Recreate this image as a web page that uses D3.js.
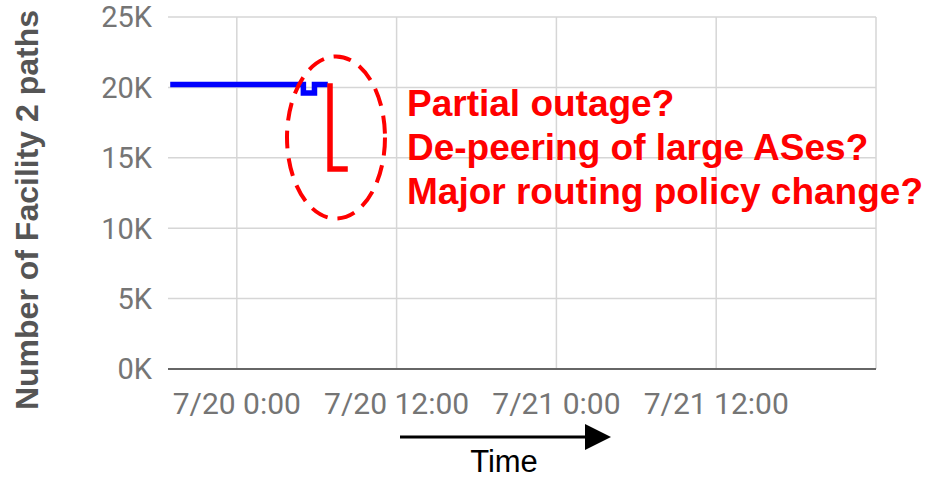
<!DOCTYPE html>
<html>
<head>
<meta charset="utf-8">
<script src="https://cdn.jsdelivr.net/npm/d3@7"></script>
<style>
  body { margin: 0; background: #fff; }
  svg { display: block; }
</style>
</head>
<body>
<script>
var width = 926,
    height = 480;

// data
var yTicks = [0, 5000, 10000, 15000, 20000, 25000];
var xTicks = ["2019-07-20T00:00", "2019-07-20T12:00", "2019-07-21T00:00", "2019-07-21T12:00"];
var xTickLabels = ["7/20 0:00", "7/20 12:00", "7/21 0:00", "7/21 12:00"];
var xDomain = ["2019-07-19T18:50", "2019-07-22T00:00"];

var blueTimes = ["2019-07-19T19:00", "2019-07-20T05:00", "2019-07-20T05:50", "2019-07-20T06:50"];
var blueValues = [20200, 19600, 20200, 20200];

var redTimes = ["2019-07-20T07:00", "2019-07-20T07:00", "2019-07-20T08:20"];
var redValues = [20300, 14200, 14200];

var notes = ["Partial outage?", "De-peering of large ASes?", "Major routing policy change?"];

var parse = d3.timeParse("%Y-%m-%dT%H:%M");

var plotLeft = 168, plotRight = 876, plotTop = 17, plotBottom = 369;

var x = d3.scaleTime()
    .domain(xDomain.map(parse))
    .range([plotLeft, plotRight]);

var y = d3.scaleLinear()
    .domain([0, 25000])
    .range([plotBottom, plotTop]);

var svg = d3.select("body").append("svg")
    .attr("width", width)
    .attr("height", height);

// horizontal grid
svg.append("g").selectAll("line")
    .data(yTicks.filter(function(d) { return d > 0; }))
    .enter().append("line")
    .attr("x1", plotLeft).attr("x2", plotRight)
    .attr("y1", function(d) { return y(d); })
    .attr("y2", function(d) { return y(d); })
    .style("stroke", "#d6d6d6")
    .style("stroke-width", 1.5);

// vertical grid (ticks plus right edge)
var vLines = xTicks.map(parse).concat([x.domain()[1]]);
svg.append("g").selectAll("line")
    .data(vLines)
    .enter().append("line")
    .attr("x1", function(d) { return x(d); })
    .attr("x2", function(d) { return x(d); })
    .attr("y1", plotTop).attr("y2", plotBottom)
    .style("stroke", "#d6d6d6")
    .style("stroke-width", 1.5);

// baseline
svg.append("line")
    .attr("x1", plotLeft).attr("x2", plotRight)
    .attr("y1", y(0)).attr("y2", y(0))
    .style("stroke", "#666")
    .style("stroke-width", 2);

// y tick labels
svg.append("g").selectAll("text")
    .data(yTicks)
    .enter().append("text")
    .attr("x", 152)
    .attr("y", function(d) { return y(d); })
    .attr("dy", "0.36em")
    .attr("text-anchor", "end")
    .style("font-family", "Roboto, sans-serif")
    .style("font-size", "29px")
    .style("fill", "#757575")
    .text(function(d) { return (d / 1000) + "K"; });

// x tick labels
svg.append("g").selectAll("text")
    .data(xTicks)
    .enter().append("text")
    .attr("x", function(d) { return x(parse(d)); })
    .attr("y", 414)
    .attr("text-anchor", "middle")
    .style("font-family", "Roboto, sans-serif")
    .style("font-size", "30px")
    .style("fill", "#757575")
    .text(function(d, i) { return xTickLabels[i]; });

// y title
svg.append("text")
    .attr("transform", "translate(38,210) rotate(-90)")
    .attr("text-anchor", "middle")
    .style("font-family", "'Liberation Sans', Arial, sans-serif")
    .style("font-weight", "bold")
    .style("font-size", "32px")
    .style("fill", "#555")
    .text("Number of Facility 2 paths");

// series
var line = d3.line()
    .x(function(d) { return x(d[0]); })
    .y(function(d) { return y(d[1]); });

var blue = blueTimes.map(function(t, i) { return [parse(t), blueValues[i]]; });
var red = redTimes.map(function(t, i) { return [parse(t), redValues[i]]; });

svg.append("path")
    .datum(blue)
    .attr("d", line.curve(d3.curveStepAfter))
    .style("fill", "none")
    .style("stroke", "#0000ff")
    .style("stroke-width", 5.5);

svg.append("path")
    .datum(red)
    .attr("d", line.curve(d3.curveLinear))
    .style("fill", "none")
    .style("stroke", "#ff0000")
    .style("stroke-width", 5.5);

// dashed ellipse annotation
svg.append("ellipse")
    .attr("cx", 336).attr("cy", 137.5)
    .attr("rx", 49).attr("ry", 81)
    .style("fill", "none")
    .style("stroke", "#ff0000")
    .style("stroke-width", 4)
    .style("stroke-dasharray", "18,10");

// red notes
svg.append("g").selectAll("text")
    .data(notes)
    .enter().append("text")
    .attr("x", 407)
    .attr("y", function(d, i) { return 116 + i * 44; })
    .style("font-family", "'Liberation Sans', Arial, sans-serif")
    .style("font-weight", "bold")
    .style("font-size", "37px")
    .style("fill", "#ff0000")
    .text(function(d) { return d; });

// time arrow
svg.append("defs").append("marker")
    .attr("id", "head")
    .attr("viewBox", "0 0 10 10")
    .attr("refX", 0).attr("refY", 5)
    .attr("markerWidth", 26).attr("markerHeight", 26)
    .attr("markerUnits", "userSpaceOnUse")
    .attr("orient", "auto")
    .append("path")
    .attr("d", "M0,0L10,5L0,10Z")
    .style("fill", "#000");

svg.append("line")
    .attr("x1", 400).attr("x2", 585)
    .attr("y1", 437).attr("y2", 437)
    .style("stroke", "#000")
    .style("stroke-width", 3)
    .attr("marker-end", "url(#head)");

svg.append("text")
    .attr("x", 504)
    .attr("y", 472)
    .attr("text-anchor", "middle")
    .style("font-family", "'Liberation Sans', Arial, sans-serif")
    .style("font-size", "31px")
    .style("fill", "#000")
    .text("Time");
</script>
</body>
</html>
